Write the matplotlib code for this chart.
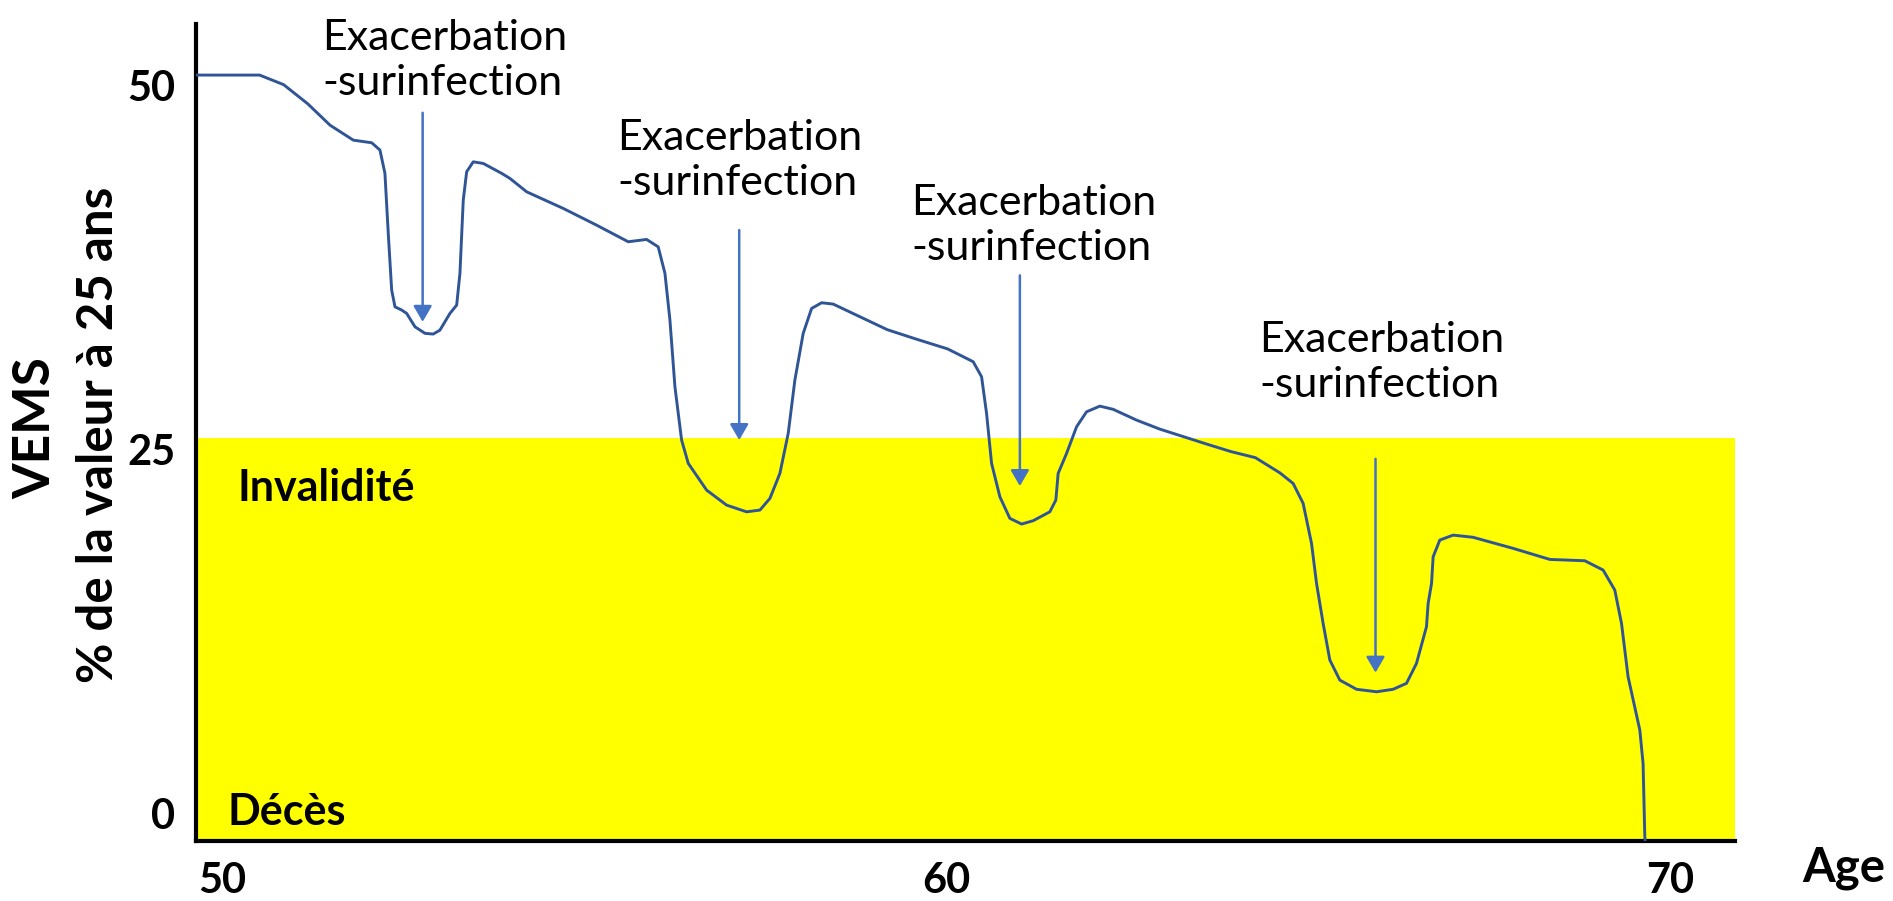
import matplotlib
matplotlib.use("Agg")
import matplotlib.pyplot as plt

plt.rcParams['font.family'] = ['Lato', 'DejaVu Sans']

# ---- data ----
age = [49.652, 50.519, 50.852, 51.186, 51.492, 51.814, 52.068, 52.182, 52.251, 52.297,
       52.344, 52.390, 52.482, 52.551, 52.666, 52.804, 52.918, 53.011, 53.149, 53.242,
       53.287, 53.333, 53.380, 53.471, 53.609, 53.863, 53.978, 54.209, 54.714, 55.175,
       55.612, 55.866, 56.026, 56.119, 56.188, 56.257, 56.349, 56.441, 56.695, 56.971,
       57.247, 57.431, 57.569, 57.707, 57.822, 57.914, 58.029, 58.145, 58.283, 58.443,
       58.812, 59.191, 59.606, 60.024, 60.193, 60.377, 60.493, 60.562, 60.631, 60.746,
       60.884, 61.046, 61.206, 61.436, 61.519, 61.551, 61.667, 61.805, 61.943, 62.127,
       62.311, 62.634, 62.956, 63.605, 63.936, 64.276, 64.613, 64.797, 64.935, 65.051,
       65.120, 65.211, 65.304, 65.442, 65.673, 65.949, 66.178, 66.363, 66.501, 66.639,
       66.662, 66.709, 66.731, 66.823, 67.007, 67.283, 67.836, 68.343, 68.826, 69.079,
       69.240, 69.333, 69.424, 69.586, 69.631, 69.655, 69.660]
vems = [50.69, 50.69, 50.03, 48.71, 47.25, 46.22, 46.04, 45.54, 43.94, 39.81,
        35.92, 34.77, 34.55, 34.32, 33.40, 32.95, 32.90, 33.17, 34.32, 34.89,
        37.07, 42.10, 44.05, 44.73, 44.62, 43.94, 43.59, 42.67, 41.53, 40.38,
        39.24, 39.40, 38.89, 37.07, 33.86, 29.28, 25.62, 24.02, 22.18, 21.15,
        20.69, 20.81, 21.61, 23.33, 26.08, 29.74, 32.95, 34.66, 35.05, 34.96,
        34.09, 33.20, 32.53, 31.88, 31.46, 31.00, 29.97, 27.45, 24.02, 21.72,
        20.24, 19.85, 20.08, 20.69, 21.50, 23.33, 24.70, 26.53, 27.56, 27.95,
        27.73, 26.99, 26.37, 25.34, 24.83, 24.41, 23.37, 22.64, 21.27, 18.52,
        15.78, 13.03, 10.51, 9.13, 8.50, 8.33, 8.50, 8.91, 10.28, 12.80,
        14.40, 15.78, 17.60, 18.75, 19.09, 18.94, 18.18, 17.42, 17.33, 16.69,
        15.32, 13.03, 9.36, 5.70, 3.41, -1.63, -1.92]

event_age = [52.772, 57.145, 61.022, 65.935]
arrow_top = [48.10, 40.04, 36.93, 24.33]
arrow_tip = [33.74, 25.62, 22.46, 9.64]
label_age = [51.39, 55.46, 59.52, 64.33]
label_vems = [51.69, 44.81, 40.33, 30.96]
event_text = "Exacerbation\n-surinfection"

invalidity_level = 25.75
xtick_pos = [50, 60, 70]
xtick_lab = ["50", "60", "70"]
ytick_pos = [0, 25, 50]
ytick_lab = ["0", "25", "50"]

# ---- figure ----
fig = plt.figure(figsize=(18.93, 9.01), dpi=100)
ax = fig.add_axes([0.1035, 0.0666, 0.813, 0.9068])
ax.set_xlim(49.64, 70.9)
ax.set_ylim(-1.92, 54.2)

ax.axhspan(-1.92, invalidity_level, color='#FFFF00', zorder=0, lw=0)

ax.plot(age, vems, color='#2F5597', lw=2.1, solid_joinstyle='round',
        solid_capstyle='round', zorder=3)

for xa, yt, yb in zip(event_age, arrow_top, arrow_tip):
    ax.annotate('', xy=(xa, yb), xytext=(xa, yt),
                arrowprops=dict(arrowstyle='-|>,head_length=0.48,head_width=0.28',
                                color='#4472C4', lw=1.8,
                                mutation_scale=20, shrinkA=0, shrinkB=0),
                zorder=4)

for xl, yl in zip(label_age, label_vems):
    ax.text(xl, yl, event_text, ha='left', va='center', fontsize=31,
            linespacing=1.22, color='black', clip_on=False)

ax.text(50.21, 22.3, "Invalidité", fontsize=31, fontweight='bold',
        ha='left', va='center')
ax.text(50.07, 0.1, "Décès", fontsize=31, fontweight='bold',
        ha='left', va='center')

for s in ['top', 'right']:
    ax.spines[s].set_visible(False)
for s in ['left', 'bottom']:
    ax.spines[s].set_linewidth(3)
    ax.spines[s].set_color('black')

ax.set_xticks(xtick_pos)
ax.set_xticklabels(xtick_lab, fontsize=30, fontweight='bold')
ax.set_yticks(ytick_pos)
ax.set_yticklabels(ytick_lab, fontsize=30, fontweight='bold')
ax.tick_params(axis='both', length=0)
ax.tick_params(axis='x', pad=15)
ax.tick_params(axis='y', pad=15)

fig.text(0.019, 0.525, "VEMS", rotation=90, fontsize=37, fontweight='bold',
         ha='center', va='center')
fig.text(0.052, 0.517, "% de la valeur à 25 ans", rotation=90, fontsize=35.5,
         fontweight='bold', ha='center', va='center')
fig.text(0.974, 0.037, "Age", fontsize=34, fontweight='bold',
         ha='center', va='center')

fig.savefig("out.png", dpi=100)
